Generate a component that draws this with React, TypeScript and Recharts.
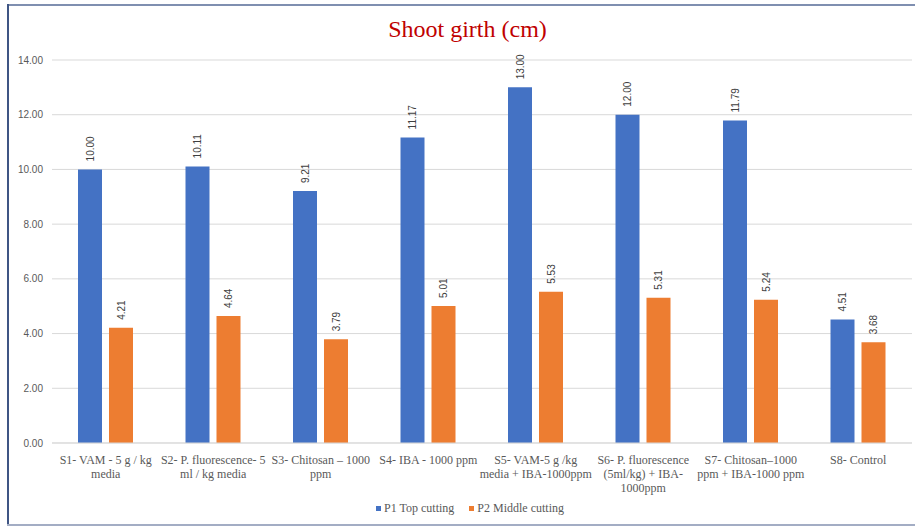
import React from 'react';
import { BarChart, Bar, XAxis, YAxis, CartesianGrid, Legend, LabelList } from 'recharts';

// category labels, already broken into lines like the original
const categories: string[][] = [
  ['S1- VAM - 5 g / kg', 'media'],
  ['S2- P. fluorescence- 5', 'ml / kg media'],
  ['S3- Chitosan \u2013 1000', 'ppm'],
  ['S4- IBA - 1000 ppm'],
  ['S5- VAM-5 g /kg', 'media + IBA-1000ppm'],
  ['S6- P. fluorescence', '(5ml/kg) + IBA-', '1000ppm'],
  ['S7- Chitosan\u20131000', 'ppm + IBA-1000 ppm'],
  ['S8- Control'],
];
const topCutting = [10.0, 10.11, 9.21, 11.17, 13.0, 12.0, 11.79, 4.51];
const middleCutting = [4.21, 4.64, 3.79, 5.01, 5.53, 5.31, 5.24, 3.68];
const yTicks = [0, 2, 4, 6, 8, 10, 12, 14];

const data = categories.map((lines, i) => ({
  name: lines.join(' '),
  lines,
  p1: topCutting[i],
  p2: middleCutting[i],
}));

const SERIF = '"Liberation Serif", "Times New Roman", serif';
const SANS = '"Liberation Sans", Arial, sans-serif';

const CategoryTick = (props: any) => {
  const { x, y, index } = props;
  const lines = categories[index] || [];
  return (
    <text x={x} y={y} textAnchor="middle" fontFamily={SERIF} fontSize={12} fill="#595959">
      {lines.map((l, i) => (
        <tspan key={i} x={x} dy={i === 0 ? 13 : 14}>{l}</tspan>
      ))}
    </text>
  );
};

const ValueLabel = (props: any) => {
  const { x, y, width, value } = props;
  const cx = x + width / 2 + 4;
  const cy = y - 8;
  return (
    <text
      x={cx}
      y={cy}
      transform={`rotate(-90 ${cx} ${cy})`}
      textAnchor="start"
      fontFamily={SANS}
      fontSize={10}
      fill="#404040"
    >
      {Number(value).toFixed(2)}
    </text>
  );
};

const LegendContent = () => (
  <div style={{ display: 'flex', justifyContent: 'center', fontFamily: SERIF, fontSize: 12, color: '#595959', paddingLeft: 28 }}>
    <span style={{ display: 'flex', alignItems: 'center', marginRight: 15 }}>
      <span style={{ width: 5, height: 5, background: '#4472C4', marginRight: 3 }} />
      P1 Top cutting
    </span>
    <span style={{ display: 'flex', alignItems: 'center' }}>
      <span style={{ width: 5, height: 5, background: '#ED7D31', marginRight: 3 }} />
      P2 Middle cutting
    </span>
  </div>
);

export default function App() {
  return (
    <div style={{ position: 'absolute', left: 0, top: 0, width: 915, height: 526, background: '#fff', overflow: 'hidden' }}>
      {/* frame lines */}
      <div style={{ position: 'absolute', left: 7, top: 4, width: 908, height: 2, background: '#7f8fb0' }} />
      <div style={{ position: 'absolute', left: 7, top: 4, width: 2, height: 521, background: '#3f5584' }} />
      <div style={{ position: 'absolute', left: 7, top: 524, width: 908, height: 2, background: '#a3adc4' }} />
      <div
        style={{
          position: 'absolute',
          left: 0,
          top: 16,
          width: 935,
          textAlign: 'center',
          fontFamily: SERIF,
          fontSize: 24,
          color: '#C00000',
        }}
      >
        Shoot girth (cm)
      </div>
      <div style={{ position: 'absolute', left: 0, top: 0 }}>
        <BarChart
          width={915}
          height={526}
          data={data}
          margin={{ top: 60, right: 3, bottom: 10, left: 0 }}
          barSize={24}
          barGap={7}
        >
          <CartesianGrid vertical={false} stroke="#d9d9d9" />
          <XAxis
            dataKey="name"
            height={58}
            interval={0}
            tickLine={false}
            axisLine={{ stroke: '#d9d9d9' }}
            tick={<CategoryTick />}
          />
          <YAxis
            width={52}
            domain={[0, 14]}
            ticks={yTicks}
            tickFormatter={(v: number) => v.toFixed(2)}
            axisLine={false}
            tickLine={false}
            tickSize={0}
            tickMargin={9}
            tick={{ fontFamily: SANS, fontSize: 10, fill: '#595959' }}
          />
          <Legend verticalAlign="bottom" content={<LegendContent />} />
          <Bar dataKey="p1" name="P1 Top cutting" fill="#4472C4" isAnimationActive={false}>
            <LabelList dataKey="p1" content={<ValueLabel />} />
          </Bar>
          <Bar dataKey="p2" name="P2 Middle cutting" fill="#ED7D31" isAnimationActive={false}>
            <LabelList dataKey="p2" content={<ValueLabel />} />
          </Bar>
        </BarChart>
      </div>
    </div>
  );
}
